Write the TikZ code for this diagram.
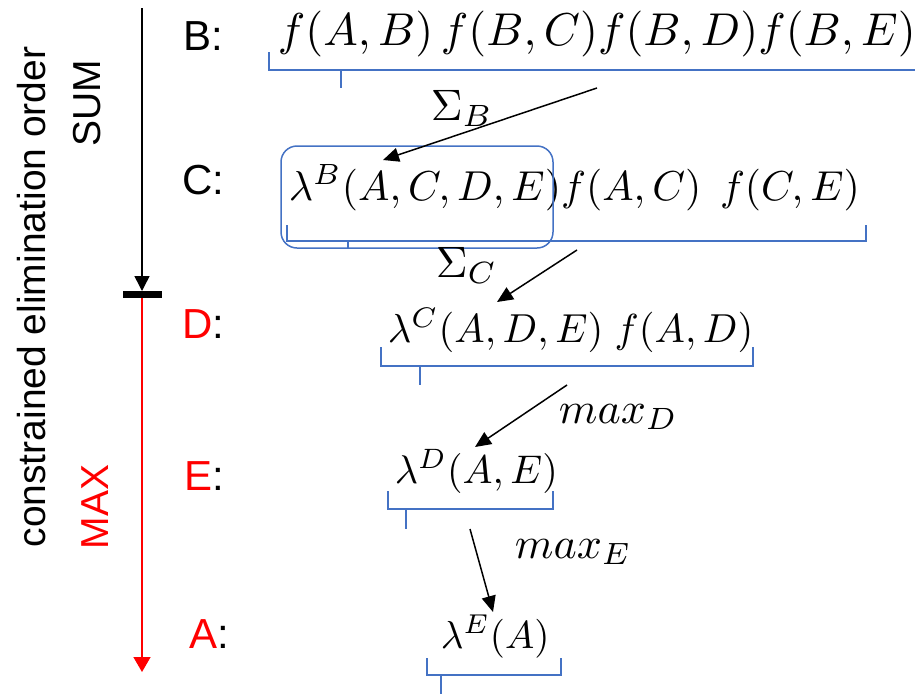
\documentclass[tikz,border=0pt]{standalone}
\usepackage[no-math]{fontspec}
\setmainfont{Liberation Sans}
\usetikzlibrary{arrows.meta}
\definecolor{bblue}{RGB}{68,114,196}
\tikzset{
  lab/.style={anchor=base west, inner sep=0pt, font=\fontsize{42}{48}\selectfont},
  mth/.style={anchor=base west, inner sep=0pt},
  brace/.style={draw=bblue, line width=2pt},
  arr/.style={line width=1.5pt, -{Triangle[length=16pt,width=14pt]}},
}
\begin{document}
\begin{tikzpicture}[x=1pt,y=-1pt]
\useasboundingbox (0,0) rectangle (915,694);
% left axis
\node[rotate=90, anchor=base, inner sep=0pt, font=\fontsize{39}{46}\selectfont] (order) at (45,297) {constrained elimination order};
\node[rotate=90, anchor=base, inner sep=0pt, font=\fontsize{39}{46}\selectfont] (sum) at (100,103) {SUM};
\node[rotate=90, anchor=base, inner sep=0pt, font=\fontsize{39}{46}\selectfont, text=red] (max) at (108,507) {MAX};
\coordinate (top) at (142,8);
\coordinate (mid) at (142,291);
\coordinate (barL) at (123,294.5);
\coordinate (barR) at (162,294.5);
\coordinate (rtop) at (142,298);
\coordinate (bot) at (142,672);
\draw[line width=1.5pt, -{Triangle[length=15pt,width=15pt]}] (top) -- (mid);
\draw[line width=7pt] (barL) -- (barR);
\draw[red, line width=1.5pt, -{Triangle[length=15pt,width=17pt]}] (rtop) -- (bot);
% row labels
\node[lab] (lB) at (183,50) {B:};
\node[lab] (lC) at (182,194) {C:};
\node[lab] (lD) at (182,338) {\textcolor{red}{D}:};
\node[lab] (lE) at (184,490) {\textcolor{red}{E}:};
\node[lab] (lA) at (189,648) {\textcolor{red}{A}:};
% formulas
\node[mth, scale=4.6] (fB) at (277,45) {$f(A,B)\,f(B,C)f(B,D)f(B,E)$};
\node[mth, scale=4.18] (fC) at (288,200) {$\lambda^B(A,C,D,E)f(A,C)\;\,f(C,E)$};
\node[mth, scale=4.05] (fD) at (387,342) {$\lambda^C(A,D,E)\;f(A,D)$};
\node[mth, scale=4.0] (fE) at (394,483) {$\lambda^D(A,E)$};
\node[mth, scale=3.9] (fA) at (440,648) {$\lambda^E(A)$};
% braces
\draw[brace] (269,52) -- (269,70) -- (915,70);
\draw[brace] (341,70) -- (341,88);
\draw[brace] (287,225) -- (287,241) -- (866,241) -- (866,225);
\draw[brace] (348,241) -- (348,248);
\draw[brace] (381,347) -- (381,366) -- (753,366) -- (753,347);
\draw[brace] (420,366) -- (420,385);
\draw[brace] (388,491) -- (388,509) -- (553,509) -- (553,491);
\draw[brace] (406,509) -- (406,529);
\draw[brace] (427,658) -- (427,675) -- (561,675) -- (561,658);
\draw[brace] (441,675) -- (441,694);
% grouping box
\node[draw=bblue, line width=1.5pt, rounded corners=16pt, minimum width=272pt, minimum height=102pt, inner sep=0pt] (grp) at (417,197) {};
% operator labels
\node[mth, scale=4.4] (sB) at (430,120) {$\Sigma_B$};
\node[mth, scale=4.4] (sC) at (435,277) {$\Sigma_C$};
\node[mth, scale=4.4] (mD) at (558,423) {$max_D$};
\node[mth, scale=4.4] (mE) at (514,558) {$max_E$};
% arrows
\coordinate (aB1) at (597,88);
\coordinate (aB2) at (383,160);
\coordinate (aC1) at (577,250);
\coordinate (aC2) at (497,302);
\coordinate (aD1) at (567,385);
\coordinate (aD2) at (475,447);
\coordinate (aE1) at (470,529);
\coordinate (aE2) at (493,612);
\draw[arr] (aB1) -- (aB2);
\draw[arr] (aC1) -- (aC2);
\draw[arr] (aD1) -- (aD2);
\draw[arr] (aE1) -- (aE2);
\end{tikzpicture}
\end{document}
